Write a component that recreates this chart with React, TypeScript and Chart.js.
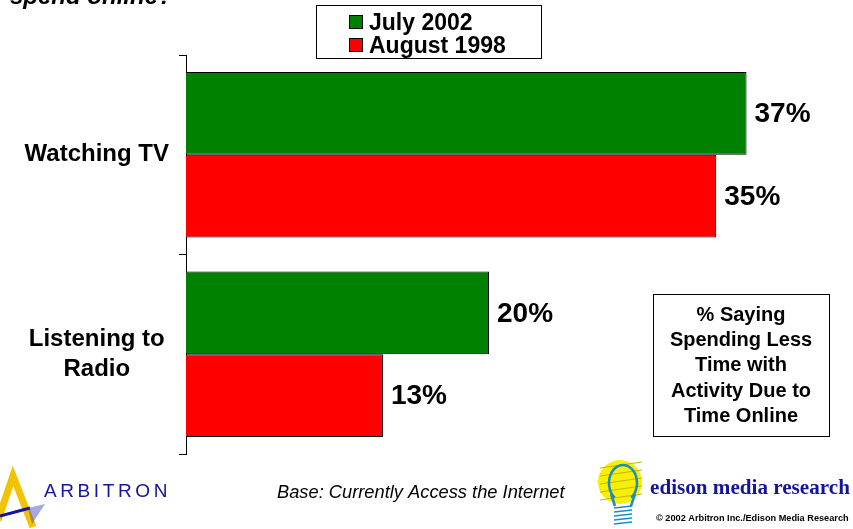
import React, { useEffect, useRef } from 'react';
import { Chart, registerables } from 'chart.js';

Chart.register(...registerables);

const categories: (string | string[])[] = ['Watching TV', ['Listening to', 'Radio']];
const seriesNames = ['July 2002', 'August 1998'];
const july2002 = [37, 20];
const august1998 = [35, 13];
const seriesColors = ['#008000', '#FF0000'];
const xMax = 40;
const titleText = 'spend online?';
const noteLines = ['% Saying', 'Spending Less', 'Time with', 'Activity Due to', 'Time Online'];
const baseText = 'Base: Currently Access the Internet';
const copyrightText = '\u00A9 2002 Arbitron Inc./Edison Media Research';
const arbitronText = 'ARBITRON';
const edisonText = 'edison media research';

const SANS = '"Liberation Sans", Arial, sans-serif';
const SERIF = '"Liberation Serif", "Times New Roman", serif';
const BLUE = '#14149c';

const overlay = {
  id: 'overlay',
  afterDatasetsDraw(chart: any) {
    const ctx = chart.ctx;
    ctx.save();
    ctx.font = `bold 28px ${SANS}`;
    ctx.fillStyle = '#000';
    ctx.textAlign = 'left';
    ctx.textBaseline = 'middle';
    chart.data.datasets.forEach((ds: any, i: number) => {
      const meta = chart.getDatasetMeta(i);
      meta.data.forEach((bar: any, j: number) => {
        ctx.fillText(`${ds.data[j]}%`, bar.x + 8, bar.y + 1);
      });
    });
    ctx.restore();
  },
  afterDraw(chart: any) {
    const ctx = chart.ctx;
    ctx.save();

    // clipped title
    ctx.fillStyle = '#000';
    ctx.textAlign = 'left';
    ctx.textBaseline = 'alphabetic';
    ctx.font = `italic bold 24px ${SANS}`;
    ctx.fillText(titleText, 10, 4);

    // legend
    ctx.lineWidth = 1;
    ctx.strokeStyle = '#000';
    ctx.fillStyle = '#fff';
    ctx.fillRect(316.5, 5.5, 225, 53);
    ctx.strokeRect(316.5, 5.5, 225, 53);
    ctx.font = `bold 23px ${SANS}`;
    chart.data.datasets.forEach((ds: any, i: number) => {
      const y = 15 + i * 23;
      ctx.fillStyle = ds.backgroundColor;
      ctx.fillRect(349.5, y + 0.5, 13, 13);
      ctx.strokeRect(349.5, y + 0.5, 13, 13);
      ctx.fillStyle = '#000';
      ctx.fillText(ds.label, 369, y + 14.5);
    });

    // note box
    ctx.strokeRect(653.5, 294.5, 176, 142);
    ctx.font = `bold 20px ${SANS}`;
    ctx.textAlign = 'center';
    noteLines.forEach((line, i) => {
      ctx.fillText(line, 741, 321 + i * 25.2);
    });

    // base text
    ctx.textAlign = 'left';
    ctx.font = `italic 18.3px ${SANS}`;
    ctx.fillText(baseText, 277, 498);

    // Arbitron logo
    ctx.strokeStyle = '#f3c300';
    ctx.lineWidth = 7;
    ctx.lineJoin = 'miter';
    ctx.beginPath();
    ctx.moveTo(-2, 520);
    ctx.lineTo(13, 476);
    ctx.lineTo(33, 527);
    ctx.stroke();
    ctx.strokeStyle = BLUE;
    ctx.lineWidth = 3;
    ctx.beginPath();
    ctx.moveTo(0, 516);
    ctx.lineTo(30, 508);
    ctx.stroke();
    ctx.fillStyle = 'rgba(60,60,190,0.45)';
    ctx.beginPath();
    ctx.moveTo(28, 508);
    ctx.lineTo(45, 504);
    ctx.lineTo(32, 524);
    ctx.closePath();
    ctx.fill();
    ctx.fillStyle = BLUE;
    ctx.font = `19px ${SANS}`;
    let ax = 44;
    for (const ch of arbitronText) {
      ctx.fillText(ch, ax, 497);
      ax += ctx.measureText(ch).width + 3.6;
    }

    // Edison logo
    ctx.fillStyle = '#f7f000';
    ctx.beginPath();
    ctx.ellipse(620, 482, 22, 22, 0, 0, Math.PI * 2);
    ctx.fill();
    ctx.strokeStyle = '#c8b400';
    ctx.lineWidth = 1;
    for (let k = 0; k < 5; k++) {
      ctx.beginPath();
      ctx.moveTo(600, 468 + k * 8);
      ctx.lineTo(642, 462 + k * 8);
      ctx.stroke();
    }
    ctx.strokeStyle = '#1c8cc8';
    ctx.lineWidth = 2.5;
    ctx.beginPath();
    ctx.ellipse(623, 483, 14, 18, 0, Math.PI * 0.7, Math.PI * 2.3);
    ctx.stroke();
    ctx.beginPath();
    ctx.moveTo(611, 494);
    ctx.lineTo(615, 506);
    ctx.moveTo(635, 494);
    ctx.lineTo(631, 506);
    ctx.stroke();
    ctx.lineWidth = 1.5;
    for (let k = 0; k < 5; k++) {
      ctx.beginPath();
      ctx.moveTo(614, 508 + k * 4);
      ctx.lineTo(632, 506 + k * 4);
      ctx.stroke();
    }
    ctx.fillStyle = BLUE;
    ctx.font = `bold 22px ${SERIF}`;
    const ew = ctx.measureText(edisonText).width;
    const es = (22 * 200) / ew;
    ctx.font = `bold ${es.toFixed(2)}px ${SERIF}`;
    ctx.fillText(edisonText, 650, 494);
    ctx.fillStyle = '#000';
    ctx.font = `bold 9.2px ${SANS}`;
    ctx.fillText(copyrightText, 656, 521);

    ctx.restore();
  },
};

export default function App() {
  const ref = useRef<HTMLCanvasElement | null>(null);
  useEffect(() => {
    if (!ref.current) return;
    const chart = new Chart(ref.current, {
      type: 'bar',
      data: {
        labels: categories,
        datasets: [
          { label: seriesNames[0], data: july2002, backgroundColor: seriesColors[0], borderColor: '#000', borderWidth: 1 },
          { label: seriesNames[1], data: august1998, backgroundColor: seriesColors[1], borderColor: '#000', borderWidth: 1 },
        ],
      },
      options: {
        indexAxis: 'y',
        responsive: false,
        maintainAspectRatio: false,
        animation: false,
        devicePixelRatio: 1,
        layout: { padding: { top: 55, bottom: 75, left: 0, right: 61 } },
        datasets: { bar: { categoryPercentage: 0.83, barPercentage: 1 } },
        plugins: { legend: { display: false }, tooltip: { enabled: false } },
        scales: {
          x: { display: false, min: 0, max: xMax },
          y: {
            type: 'category',
            offset: true,
            grid: { display: true, drawOnChartArea: false, drawTicks: true, tickLength: 7, color: '#000', offset: true },
            border: { display: true, color: '#000', width: 1 },
            ticks: {
              color: '#000',
              font: { family: '"Liberation Sans", Arial, sans-serif', size: 24, weight: 'bold', lineHeight: 1.25 },
              crossAlign: 'center',
              padding: 10,
            },
            afterFit: (scale: any) => {
              scale.width = 186;
            },
          },
        },
      } as any,
      plugins: [overlay],
    });
    return () => chart.destroy();
  }, []);
  return (
    <div style={{ position: 'fixed', left: 0, top: 0, width: 853, height: 529, background: '#fff' }}>
      <canvas ref={ref} width={853} height={529} style={{ display: 'block', width: 853, height: 529 }} />
    </div>
  );
}
